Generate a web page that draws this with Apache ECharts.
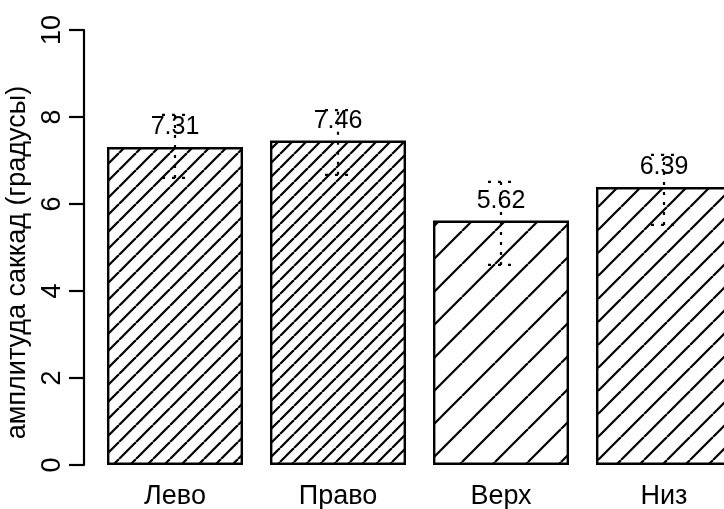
<!DOCTYPE html>
<html>
<head>
<meta charset="utf-8">
<script src="https://cdn.jsdelivr.net/npm/echarts@6/dist/echarts.min.js"></script>
<style>
  html, body { margin: 0; padding: 0; background: #fff; }
  #chart { width: 724px; height: 509px; }
</style>
</head>
<body>
<div id="chart"></div>
<script>
// Mean saccade amplitude by direction, with error bars
const categories = ['Лево', 'Право', 'Верх', 'Низ'];
const means = [7.31, 7.46, 5.62, 6.39];
const errLower = [6.60, 6.67, 4.60, 5.52];
const errUpper = [8.05, 8.16, 6.51, 7.13];
const yTicks = [0, 2, 4, 6, 8, 10];
// hatch spacing (px) for each bar
const hatchSpacing = [17, 14, 33, 23];

const FONT = 'Liberation Sans, Arial, sans-serif';
const FS = 27;
const FS_VAL = 25;

// diagonal "/" hatch tile
function hatchTile(s) {
  const c = document.createElement('canvas');
  c.width = s; c.height = s;
  const ctx = c.getContext('2d');
  ctx.fillStyle = '#fff';
  ctx.fillRect(0, 0, s, s);
  ctx.strokeStyle = '#000';
  ctx.lineWidth = 2.2;
  for (let k = -1; k <= 1; k++) {
    ctx.beginPath();
    ctx.moveTo(k * s, s);
    ctx.lineTo(k * s + s, 0);
    ctx.stroke();
  }
  return c;
}

const barData = means.map((v, i) => ({
  value: v,
  itemStyle: {
    color: { image: hatchTile(hatchSpacing[i]), repeat: 'repeat' },
    borderColor: '#000',
    borderWidth: 2.4
  }
}));

const errData = categories.map((c, i) => [i, errLower[i], errUpper[i]]);

const chart = echarts.init(document.getElementById('chart'), null, { renderer: 'canvas' });
chart.setOption({
  animation: false,
  backgroundColor: '#fff',
  grid: {
    left: 93.5, width: 652, top: 30, height: 435,
    containLabel: false,
    outerBoundsMode: 'none'
  },
  xAxis: {
    type: 'category',
    data: categories,
    axisLine: { show: false },
    axisTick: { show: false },
    axisLabel: { fontSize: FS, fontFamily: FONT, color: '#000', margin: 18 }
  },
  yAxis: {
    type: 'value',
    min: yTicks[0],
    max: yTicks[yTicks.length - 1],
    interval: 2,
    offset: 9.5,
    name: 'амплитуда саккад (градусы)',
    nameLocation: 'middle',
    nameRotate: 90,
    nameGap: 52,
    nameTextStyle: { fontSize: FS, fontFamily: FONT, color: '#000', padding: [0, 30, 0, 0] },
    axisLine: { show: true, lineStyle: { color: '#000', width: 2.2 } },
    axisTick: { show: true, length: 15, lineStyle: { color: '#000', width: 2.2 } },
    axisLabel: { rotate: 90, fontSize: FS, fontFamily: FONT, color: '#000', margin: 18 },
    splitLine: { show: false }
  },
  series: [
    {
      type: 'bar',
      data: barData,
      barWidth: 136,
      label: {
        show: true,
        position: 'top',
        distance: 7,
        fontSize: FS_VAL,
        fontFamily: FONT,
        color: '#000',
        formatter: p => p.value.toFixed(2)
      }
    },
    {
      type: 'custom',
      data: errData,
      z: 10,
      renderItem: function (params, api) {
        const x = api.value(0);
        const lo = api.coord([x, api.value(1)]);
        const hi = api.coord([x, api.value(2)]);
        const cap = 13;
        const style = { stroke: '#000', lineWidth: 2.2, lineDash: [3, 7], fill: null };
        return {
          type: 'group',
          children: [
            { type: 'line', shape: { x1: lo[0], y1: lo[1], x2: hi[0], y2: hi[1] }, style: style },
            { type: 'line', shape: { x1: hi[0] - cap, y1: hi[1], x2: hi[0] + cap, y2: hi[1] }, style: style },
            { type: 'line', shape: { x1: lo[0] - cap, y1: lo[1], x2: lo[0] + cap, y2: lo[1] }, style: style }
          ]
        };
      }
    }
  ]
});
</script>
</body>
</html>
